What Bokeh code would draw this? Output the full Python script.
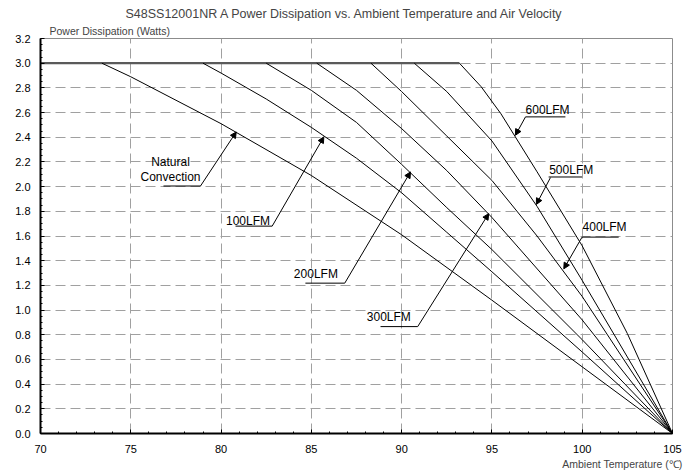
from bokeh.plotting import figure
from bokeh.models import (Range1d, SingleIntervalTicker, Label, Arrow, NormalHead,
                          ColumnDataSource, NumeralTickFormatter, Title)
from bokeh.embed import file_html
from bokeh.resources import INLINE

# ---- data ----
title_text = "S48SS12001NR A Power Dissipation vs. Ambient Temperature and Air Velocity"
y_title = "Power Dissipation (Watts)"
x_title = "Ambient Temperature (\u2103)"

x_min, x_max = 70, 105
y_min, y_max = 0.0, 3.2
power_cap = 3.0

natural_x = [73.4, 75, 80, 85, 90, 95, 100, 105]
natural_y = [3.0, 2.89, 2.51, 2.09, 1.61, 1.08, 0.54, 0.0]

lfm100_x = [79.0, 80, 82.5, 85, 87.5, 90, 92.5, 95, 100, 105]
lfm100_y = [3.0, 2.92, 2.71, 2.48, 2.23, 1.95, 1.63, 1.31, 0.66, 0.0]

lfm200_x = [82.5, 85, 87.5, 90, 92.5, 95, 100, 105]
lfm200_y = [3.0, 2.78, 2.52, 2.18, 1.83, 1.49, 0.76, 0.0]

lfm300_x = [85.3, 87.5, 90, 92.5, 95, 100, 105]
lfm300_y = [3.0, 2.78, 2.47, 2.13, 1.75, 0.92, 0.0]

lfm400_x = [88.3, 90, 92.5, 95, 97.5, 100, 105]
lfm400_y = [3.0, 2.77, 2.41, 2.05, 1.60, 1.11, 0.0]

lfm500_x = [90.7, 92.5, 95, 97.5, 100, 102.5, 105]
lfm500_y = [3.0, 2.77, 2.37, 1.84, 1.24, 0.62, 0.0]

lfm600_x = [93.2, 94.4, 95.5, 97.5, 100, 102.5, 105]
lfm600_y = [3.0, 2.81, 2.59, 2.12, 1.52, 0.81, 0.0]

series = [(natural_x, natural_y), (lfm100_x, lfm100_y), (lfm200_x, lfm200_y),
          (lfm300_x, lfm300_y), (lfm400_x, lfm400_y), (lfm500_x, lfm500_y),
          (lfm600_x, lfm600_y)]

FONT = "Liberation Sans"

p = figure(width=686, height=476, output_backend="svg", toolbar_location=None,
           x_range=Range1d(x_min, x_max), y_range=Range1d(y_min, y_max),
           min_border_left=40, min_border_right=14, min_border_top=38,
           min_border_bottom=43)
p.background_fill_color = "white"
p.border_fill_color = "white"
p.outline_line_color = "#8c8c8c"
p.outline_line_width = 1

# main title (outermost, above)
p.title.text = title_text
p.title.align = "left"
p.title.offset = 85
p.title.text_font = FONT
p.title.text_font_size = "12.5px"
p.title.text_font_style = "normal"
p.title.standoff = 1
# y-axis title (nearest to the frame, above)
p.add_layout(Title(text=y_title, align="left", offset=9, text_font=FONT,
                   text_font_size="10.5px", text_font_style="normal", standoff=3), "above")

# axes
p.xaxis.ticker = SingleIntervalTicker(interval=5, num_minor_ticks=5)
p.yaxis.ticker = SingleIntervalTicker(interval=0.2, num_minor_ticks=4)
p.yaxis.formatter = NumeralTickFormatter(format="0.0")
for ax in (p.xaxis[0], p.yaxis[0]):
    ax.axis_line_color = "black"
    ax.axis_line_width = 2
    ax.major_tick_in = 4
    ax.major_tick_out = 0
    ax.minor_tick_in = 2
    ax.minor_tick_out = 0
    ax.major_tick_line_color = "black"
    ax.minor_tick_line_color = "black"
    ax.major_label_text_font = FONT
    ax.major_label_text_font_size = "11px"
    ax.major_label_text_color = "black"
p.xaxis.major_label_standoff = 11
p.yaxis.major_label_standoff = 10

# x-axis title (below the tick labels, right aligned)
p.add_layout(Title(text=x_title, align="right", offset=-10, text_font=FONT,
                   text_font_size="10.5px", text_font_style="normal", standoff=0), "below")

# grid
for g in (p.xgrid[0], p.ygrid[0]):
    g.grid_line_color = "#a0a0a0"
    g.grid_line_dash = "10 5"
    g.grid_line_width = 1

# plateau line
p.line([x_min, lfm600_x[0]], [power_cap, power_cap], line_color="#5a5a5a", line_width=2.2)

# curves
for xs, ys in series:
    p.line(xs, ys, line_color="black", line_width=1)

# ---- callouts ----
def txt(x, y, t, size="12px", align="center", baseline="middle"):
    p.add_layout(Label(x=x, y=y, text=t, text_font=FONT, text_font_size=size,
                       text_align=align, text_baseline=baseline, text_color="black"))

callouts = [
    (["Natural", "Convection"], 77.20, [2.200, 2.078], 76.81, 78.86, 2.005, (78.86, 2.005), (80.84, 2.443)),
    (["100LFM"], 81.49, [1.721], 80.80, 82.83, 1.680, (82.83, 1.680), (85.69, 2.403)),
    (["200LFM"], 85.25, [1.294], 84.67, 86.85, 1.218, (86.85, 1.218), (90.49, 2.119)),
    (["300LFM"], 89.29, [0.942], 88.83, 90.89, 0.866, (90.89, 0.866), (94.82, 1.781)),
    (["600LFM"], 98.08, [2.619], 96.86, 99.07, 2.565, (96.86, 2.565), (96.30, 2.416)),
    (["500LFM"], 99.39, [2.132], 98.14, 99.99, 2.078, (98.24, 2.073), (97.46, 1.856)),
    (["400LFM"], 101.24, [1.672], 99.99, 102.02, 1.591, (99.99, 1.591), (98.98, 1.334)),
]
seg = dict(x0=[], y0=[], x1=[], y1=[])
for lines, lx, lys, ux0, ux1, uy, a0, a1 in callouts:
    for t, ly in zip(lines, lys):
        txt(lx, ly, t)
    seg["x0"].append(ux0); seg["y0"].append(uy); seg["x1"].append(ux1); seg["y1"].append(uy)
    p.add_layout(Arrow(end=NormalHead(size=6, fill_color="black", line_color="black", line_width=1),
                       x_start=a0[0], y_start=a0[1], x_end=a1[0], y_end=a1[1],
                       line_color="black", line_width=1))
p.segment(x0="x0", y0="y0", x1="x1", y1="y1", source=ColumnDataSource(seg),
          line_color="black", line_width=1)

open("out.html", "w").write(file_html(p, INLINE))
